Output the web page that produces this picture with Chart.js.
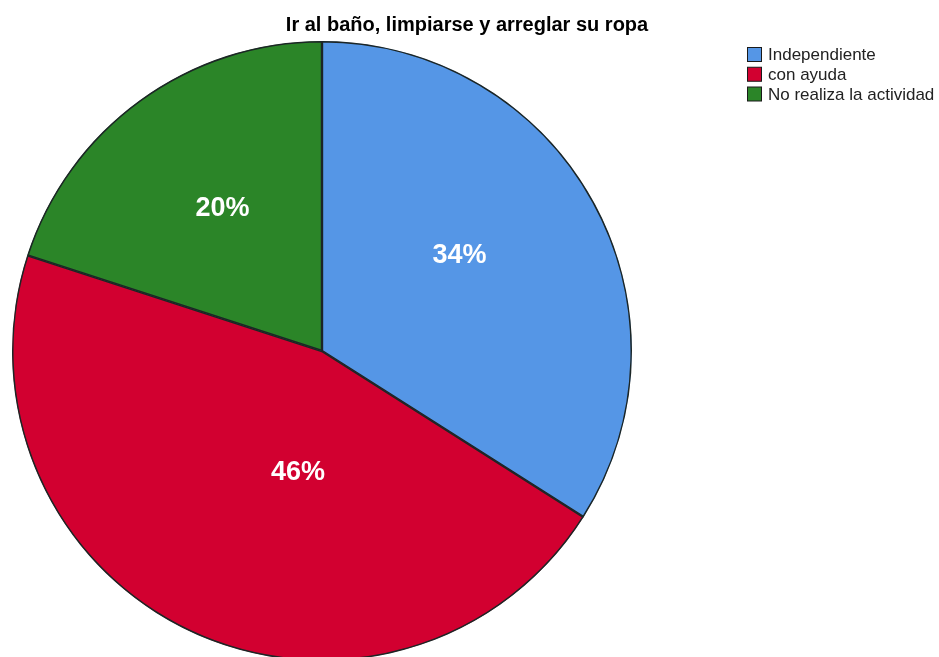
<!DOCTYPE html>
<html><head><meta charset="utf-8">
<script src="https://cdn.jsdelivr.net/npm/chart.js@4.4.0/dist/chart.umd.min.js"></script>
<style>
html,body{margin:0;padding:0;background:#fff;overflow:hidden;}
#wrap{position:relative;width:939px;height:680px;}
</style></head>
<body><div id="wrap"><canvas id="c" width="939" height="680"></canvas></div>
<script>
const title = "Ir al baño, limpiarse y arreglar su ropa";
const categories = ["Independiente", "con ayuda", "No realiza la actividad"];
const values = [34, 46, 20];
const valueLabels = ["34%", "46%", "20%"];
const colors = ["#5596E6", "#D20030", "#2B8528"];

// per-slice label placement tweaks (angle offset in degrees, radius fraction)
const labelTweak = [[-6, 0.54], [-14, 0.40], [1, 0.56]];

const overlay = {
  id: 'overlay',
  afterDraw(chart) {
    const ctx = chart.ctx;
    ctx.save();
    // title
    ctx.fillStyle = '#000';
    ctx.font = 'bold 20px "Liberation Sans", Arial, sans-serif';
    ctx.textAlign = 'center';
    ctx.textBaseline = 'alphabetic';
    ctx.fillText(title, 467, 31);
    // slice labels
    const meta = chart.getDatasetMeta(0);
    ctx.font = 'bold 27px "Liberation Sans", Arial, sans-serif';
    ctx.fillStyle = '#fff';
    ctx.textBaseline = 'middle';
    meta.data.forEach((arc, i) => {
      const p = arc.getProps(['x','y','startAngle','endAngle','outerRadius'], true);
      const mid = (p.startAngle + p.endAngle) / 2 + labelTweak[i][0] * Math.PI / 180;
      const r = p.outerRadius * labelTweak[i][1];
      ctx.fillText(valueLabels[i], p.x + Math.cos(mid) * r, p.y + Math.sin(mid) * r);
    });
    // legend
    ctx.font = '17px "Liberation Sans", Arial, sans-serif';
    ctx.textAlign = 'left';
    ctx.textBaseline = 'middle';
    categories.forEach((c, i) => {
      const y = 54.5 + i * 19.75;
      ctx.fillStyle = colors[i];
      ctx.fillRect(747.5, y - 7, 14, 14);
      ctx.strokeStyle = '#1a1a1a';
      ctx.lineWidth = 1;
      ctx.strokeRect(747.5, y - 7, 14, 14);
      ctx.fillStyle = '#222';
      ctx.fillText(c, 768, y + 1);
    });
    ctx.restore();
  }
};

new Chart(document.getElementById('c'), {
  type: 'pie',
  data: {
    labels: categories,
    datasets: [{
      data: values,
      backgroundColor: colors,
      borderColor: '#1c2626',
      borderWidth: 1.2,
      borderAlign: 'inner'
    }]
  },
  options: {
    responsive: false,
    animation: false,
    layout: { padding: { left: 12, top: 41, right: 307, bottom: 19 } },
    plugins: { legend: { display: false }, tooltip: { enabled: false }, title: { display: false } }
  },
  plugins: [overlay]
});
</script></body></html>
